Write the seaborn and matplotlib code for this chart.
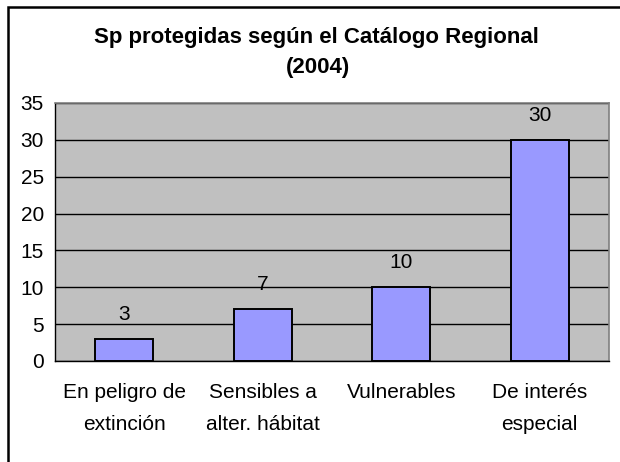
import matplotlib
matplotlib.use("Agg")
import matplotlib.pyplot as plt
import seaborn as sns
import pandas as pd
from matplotlib.patches import Rectangle

categories = ["En peligro de\nextinción", "Sensibles a\nalter. hábitat", "Vulnerables", "De interés\nespecial"]
values = [3, 7, 10, 30]
yticks = [0, 5, 10, 15, 20, 25, 30, 35]

sns.set_theme(style="white")
plt.rcParams["font.family"] = ["Liberation Sans", "DejaVu Sans"]
plt.rcParams["text.color"] = "black"
plt.rcParams["xtick.labelcolor"] = "black"
plt.rcParams["ytick.labelcolor"] = "black"

df = pd.DataFrame({"categoria": categories, "especies": values})

fig = plt.figure(figsize=(6.2, 4.62), dpi=100)
W, H = 620, 462
ax = fig.add_axes([55 / W, 1 - 361 / H, (609 - 55) / W, (361 - 103) / H])
ax.set_facecolor("#C0C0C0")

sns.barplot(data=df, x="categoria", y="especies", color="#9999FF",
            edgecolor="black", linewidth=1.4, width=0.42, saturation=1,
            ax=ax, zorder=3)

ax.set_ylim(0, 35)
ax.set_xlim(-0.5, 3.5)
ax.set_yticks(yticks)
ax.set_yticklabels([str(t) for t in yticks], fontsize=15, color="black")
ax.yaxis.grid(True, color="black", linewidth=1.0, zorder=1)
ax.set_axisbelow(True)
ax.set_xlabel("")
ax.set_ylabel("")

# category ticks sit on the boundaries between bars
ax.set_xticks([0, 1, 2, 3])
ax.set_xticklabels(categories, fontsize=15, linespacing=1.85, color="black")
ax.tick_params(axis="x", length=0, pad=16)
ax.set_xticks([-0.5, 0.5, 1.5, 2.5, 3.5], minor=True)
ax.tick_params(axis="x", which="minor", length=5, width=1, color="black", direction="out")
ax.tick_params(axis="y", length=5, width=1, color="black", direction="out", pad=3)

for side in ["left", "bottom"]:
    ax.spines[side].set_color("black")
    ax.spines[side].set_linewidth(1.0)
for side in ["top", "right"]:
    ax.spines[side].set_color("#808080")
    ax.spines[side].set_linewidth(1.2)

for i, v in enumerate(values):
    ax.annotate(str(v), (i, v), xytext=(0, 11), textcoords="offset points",
                ha="center", va="bottom", fontsize=15, color="black", zorder=4)

fig.text(316 / W, 1 - 37 / H, "Sp protegidas según el Catálogo Regional",
         ha="center", va="center", fontsize=16, fontweight="bold", color="black")
fig.text(318 / W, 1 - 67 / H, "(2004)",
         ha="center", va="center", fontsize=16, fontweight="bold", color="black")

# outer chart border
fig.patches.append(Rectangle((8 / W, -0.1), 1.2, 1 - 7 / H + 0.1,
                             transform=fig.transFigure, fill=False,
                             edgecolor="black", linewidth=1.8))

fig.savefig("out.png", dpi=100, facecolor="white")
